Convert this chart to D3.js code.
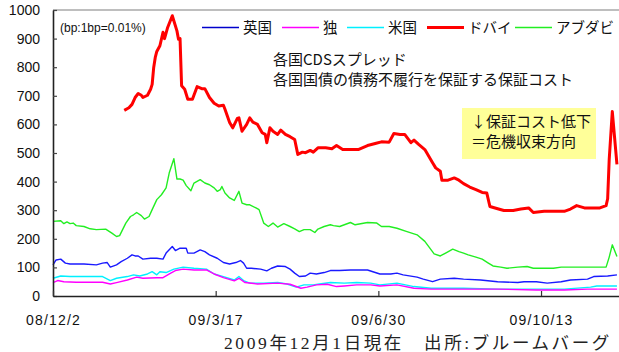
<!DOCTYPE html>
<html>
<head>
<meta charset="utf-8">
<script src="https://cdn.jsdelivr.net/npm/d3@7"></script>
<style>
  html, body { margin: 0; padding: 0; background: #fff; }
  svg { display: block; }
  text { font-family: "Liberation Sans", Arial, "Noto Sans CJK JP", sans-serif; }
  .jp { font-family: "Noto Sans CJK JP", "Liberation Sans", sans-serif; }
</style>
</head>
<body>
<svg id="chart" width="619" height="352"></svg>
<script>
// ---- data (day offset from start date, value in bp) ----
const startDate = "2008-12-02";
const endDate = "2009-12-02";
const yTickValues = [0, 100, 200, 300, 400, 500, 600, 700, 800, 900, 1000];
const xTickDates = ["2008-12-02", "2009-03-17", "2009-06-30", "2009-10-13"];
const xTickLabels = ["08/12/2", "09/3/17", "09/6/30", "09/10/13"];
const seriesNames = ["英国", "独", "米国", "ドバイ", "アブダビ"];

const uk = [[0,109],[2,126],[5,129],[8,115],[11,112],[20,112],[28,109],[32,115],[35,117],[37,101],[41,109],[44,120],[48,132],[51,144],[53,140],[55,140],[58,129],[63,132],[67,132],[71,129],[73,150],[77,173],[79,159],[82,167],[86,167],[87,150],[91,150],[95,161],[98,155],[101,144],[106,132],[110,117],[114,112],[118,117],[121,124],[123,115],[125,97],[128,97],[134,94],[138,88],[141,97],[145,105],[150,103],[153,94],[156,80],[159,68],[163,70],[166,80],[170,77],[175,82],[179,89],[185,89],[192,91],[203,91],[211,77],[218,77],[222,80],[226,74],[235,66],[239,59],[245,50],[250,59],[259,62],[265,59],[276,56],[287,50],[300,47],[304,50],[312,50],[319,45],[328,50],[334,56],[345,59],[349,68],[358,70],[364,74]];
const de = [[0,47],[3,54],[7,50],[15,48],[32,48],[37,42],[41,47],[48,56],[54,66],[58,62],[67,64],[71,64],[76,80],[79,89],[84,94],[91,91],[99,91],[104,77],[110,64],[117,53],[120,62],[124,47],[132,42],[145,45],[153,41],[160,27],[164,31],[170,39],[177,41],[183,33],[188,35],[196,39],[205,39],[211,35],[222,39],[233,27],[244,24],[265,24],[287,24],[312,21],[330,21],[345,24],[364,24]];
const us = [[0,62],[5,70],[11,68],[32,68],[37,54],[41,62],[48,68],[52,74],[56,70],[61,77],[64,85],[67,74],[69,85],[73,82],[78,94],[84,101],[91,97],[99,94],[104,77],[110,68],[117,56],[120,68],[123,54],[127,45],[136,45],[145,47],[151,42],[157,31],[162,39],[168,39],[172,42],[179,47],[188,45],[196,47],[205,45],[211,39],[222,45],[233,33],[244,27],[265,27],[287,24],[308,24],[330,24],[347,31],[351,35],[364,35]];
const dubai = [[46,649],[49,658],[51,670],[53,694],[55,708],[57,702],[58,694],[61,702],[63,723],[64,740],[65,799],[66,834],[67,855],[69,875],[71,922],[72,900],[74,939],[77,980],[80,927],[81,898],[82,900],[83,735],[85,723],[87,688],[90,688],[93,732],[96,725],[98,725],[101,694],[104,674],[107,664],[110,667],[111,653],[114,607],[116,588],[119,621],[120,623],[122,576],[125,600],[127,623],[129,608],[132,600],[135,571],[137,565],[138,536],[140,588],[142,576],[145,565],[147,580],[150,565],[153,557],[156,547],[158,495],[161,503],[163,501],[166,509],[168,503],[171,518],[176,518],[180,515],[183,526],[187,512],[192,512],[197,512],[203,526],[208,533],[212,539],[217,538],[220,568],[224,565],[227,565],[231,536],[233,545],[236,530],[240,512],[245,466],[247,448],[250,436],[251,405],[255,405],[259,413],[262,405],[265,393],[269,381],[273,372],[277,362],[280,360],[282,313],[287,305],[291,299],[297,299],[302,304],[307,308],[310,292],[317,296],[323,296],[330,296],[334,304],[338,316],[343,308],[348,308],[353,308],[357,316],[358,340],[359,477],[361,645],[364,460]];
const abuDhabi = [[0,261],[5,263],[7,253],[9,259],[11,253],[13,255],[15,246],[20,243],[24,235],[28,232],[34,234],[38,220],[41,208],[43,211],[47,255],[50,278],[52,284],[54,292],[57,281],[59,269],[62,278],[64,302],[67,337],[70,354],[73,378],[75,430],[78,480],[80,409],[82,409],[84,405],[86,386],[89,368],[91,395],[93,401],[95,407],[98,395],[101,389],[104,378],[106,366],[108,372],[109,383],[111,360],[114,343],[117,334],[120,366],[122,325],[125,319],[127,319],[131,308],[133,302],[136,255],[139,243],[142,255],[145,241],[149,253],[153,243],[156,235],[159,225],[162,232],[166,232],[169,222],[171,234],[175,243],[179,249],[181,246],[185,243],[192,257],[195,249],[203,257],[209,255],[212,243],[217,243],[222,237],[228,226],[235,214],[240,191],[246,147],[250,140],[254,152],[258,164],[262,155],[265,150],[268,144],[273,136],[277,129],[281,115],[284,105],[289,101],[293,97],[300,101],[306,103],[310,97],[317,97],[323,97],[328,101],[343,101],[357,101],[359,136],[361,179],[364,138]];

// ---- drawing ----
const svg = d3.select("#chart");
const parse = d3.timeParse("%Y-%m-%d");
const t0 = parse(startDate);
const x = d3.scaleTime().domain([t0, parse(endDate)]).range([53, 618.5]);
const y = d3.scaleLinear().domain([0, 1000]).range([296, 10]);

const series = [
  { name: seriesNames[0], data: uk, color: "#1a1aff", width: 1.4 },
  { name: seriesNames[1], data: de, color: "#ff00ff", width: 1.4 },
  { name: seriesNames[2], data: us, color: "#00f0ff", width: 1.4 },
  { name: seriesNames[3], data: dubai, color: "#ff0000", width: 3 },
  { name: seriesNames[4], data: abuDhabi, color: "#22ee22", width: 1.4 }
];

// top border
svg.append("line").attr("x1", 53).attr("x2", 619).attr("y1", y(1000)).attr("y2", y(1000))
  .attr("stroke", "#a8a8a8").attr("stroke-width", 1.6);

const line = d3.line()
  .x(d => x(d3.timeDay.offset(t0, d[0])))
  .y(d => y(d[1]));

const drawOrder = [4, 0, 2, 1, 3];
drawOrder.forEach(i => {
  const s = series[i];
  svg.append("path").datum(s.data)
    .attr("fill", "none").attr("stroke", s.color).attr("stroke-width", s.width)
    .attr("stroke-linejoin", "round").attr("d", line);
});

// axes
const yAxis = d3.axisLeft(y).tickValues(yTickValues).tickFormat(d3.format("d"))
  .tickSizeInner(-4).tickSizeOuter(0).tickPadding(13);
const gy = svg.append("g").attr("transform", "translate(53,0)").call(yAxis);
gy.select(".domain").attr("stroke", "#222").attr("stroke-width", 1.6);
gy.selectAll(".tick line").attr("stroke", "#444").attr("stroke-width", 1.2);
gy.selectAll(".tick text").attr("font-size", 14).attr("fill", "#111")
  .style("font-family", "'Liberation Sans', Arial, sans-serif");

const xAxis = d3.axisBottom(x).tickValues(xTickDates.map(parse))
  .tickFormat((d, i) => xTickLabels[i]).tickSizeInner(-5).tickSizeOuter(0).tickPadding(19);
const gx = svg.append("g").attr("transform", "translate(0,296)").call(xAxis);
gx.select(".domain").attr("stroke", "#222").attr("stroke-width", 1.6);
gx.selectAll(".tick line").attr("stroke", "#333").attr("stroke-width", 1.2);
gx.selectAll(".tick text").attr("font-size", 14).attr("fill", "#111")
  .attr("letter-spacing", 1.2)
  .style("font-family", "'Liberation Sans', Arial, sans-serif");

// legend
const legendX = [202, 282, 347, 427, 515];
series.forEach((s, i) => {
  svg.append("line").attr("x1", legendX[i]).attr("x2", legendX[i] + 37)
    .attr("y1", 27.5).attr("y2", 27.5).attr("stroke", s.color === "#1a1aff" ? "#0000cc" : s.color)
    .attr("stroke-width", s.width);
  svg.append("text").attr("class", "jp").attr("x", legendX[i] + 41).attr("y", 27.5)
    .attr("dy", "0.36em").attr("font-size", 14.5).attr("fill", "#111").text(s.name);
});

// unit note
svg.append("text").attr("x", 60).attr("y", 27.5).attr("dy", "0.35em")
  .attr("font-size", 12).attr("fill", "#111").text("(bp:1bp=0.01%)");

// annotation
svg.append("text").attr("class", "jp").attr("x", 273).attr("y", 60).attr("dy", "0.36em")
  .attr("font-size", 15).attr("fill", "#111").text("各国CDSスプレッド");
svg.append("text").attr("class", "jp").attr("x", 273).attr("y", 80).attr("dy", "0.36em")
  .attr("font-size", 15).attr("fill", "#111").text("各国国債の債務不履行を保証する保証コスト");

// yellow box
svg.append("rect").attr("x", 462).attr("y", 108).attr("width", 134).attr("height", 51)
  .attr("fill", "#ffff99");
svg.append("text").attr("class", "jp").attr("x", 471).attr("y", 122).attr("dy", "0.36em")
  .attr("font-size", 15).attr("fill", "#111").text("↓保証コスト低下");
svg.append("text").attr("class", "jp").attr("x", 471).attr("y", 142).attr("dy", "0.36em")
  .attr("font-size", 15).attr("fill", "#111").text("＝危機収束方向");

// caption
svg.append("text").attr("x", 224).attr("y", 343).attr("dy", "0.35em")
  .attr("font-size", 17.5).attr("fill", "#222").attr("letter-spacing", 2.6)
  .style("font-family", "'Liberation Serif', 'Noto Sans CJK JP', serif")
  .text("2009年12月1日現在　出所:ブルームバーグ");
</script>
</body>
</html>
